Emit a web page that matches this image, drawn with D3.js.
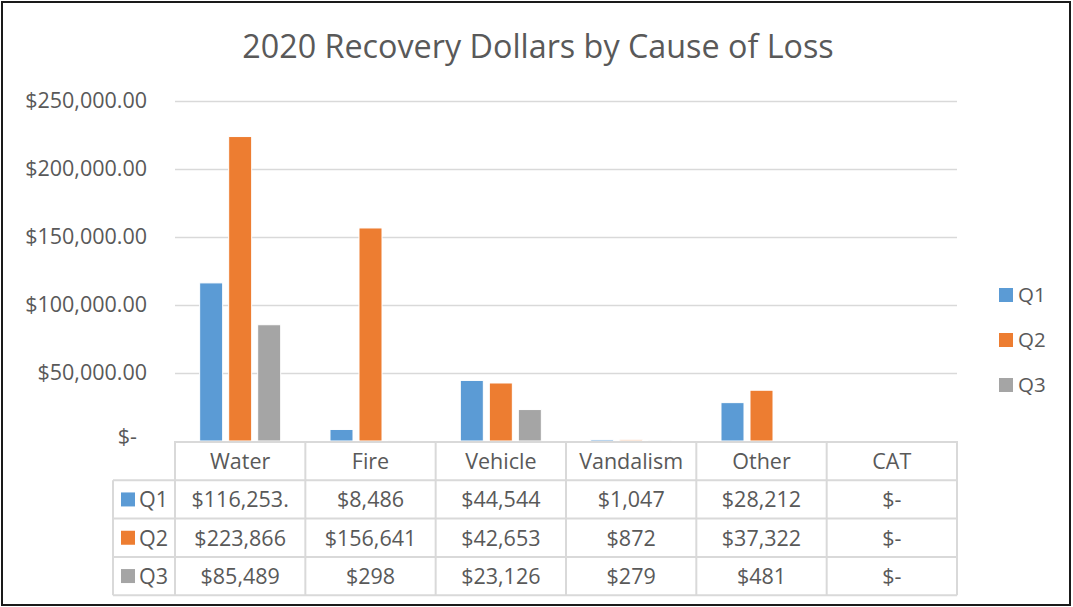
<!DOCTYPE html>
<html>
<head>
<meta charset="utf-8">
<script src="https://cdn.jsdelivr.net/npm/d3@7"></script>
<style>
  body { margin: 0; background: #fff; }
  text { font-family: "Open Sans", sans-serif; fill: #595959; }
</style>
</head>
<body>
<div id="chart"></div>
<script>
// data
const categories = ["Water", "Fire", "Vehicle", "Vandalism", "Other", "CAT"]
const series = ["Q1", "Q2", "Q3"]
const q1 = [116253.25, 8486, 44544, 1047, 28212, 0]
const q2 = [223866, 156641, 42653, 872, 37322, 0]
const q3 = [85489, 298, 23126, 279, 481, 0]
const yTicks = [0, 50000, 100000, 150000, 200000, 250000]
const colors = ["#5B9BD5", "#ED7D31", "#A5A5A5"]

const values = [q1, q2, q3]
const data = series.map((s, i) => ({ s, vals: categories.map((c, j) => ({ c, v: values[i][j] })) }))

// dimensions
const width = 1073, height = 607
const plot = {left: 175, right: 957, top: 101, bottom: 441}
const rowH = 38.3

const svg = d3.select("#chart").append("svg")
    .attr("width", width)
    .attr("height", height)

// outer frame
svg.append("rect")
    .attr("x", 2).attr("y", 2)
    .attr("width", width - 5).attr("height", height - 4)
    .attr("fill", "#fff")
    .attr("stroke", "#1a1a1a")
    .attr("stroke-width", 2)

// title
svg.append("text")
    .attr("x", 538).attr("y", 58)
    .attr("text-anchor", "middle")
    .style("font-size", "32.3px")
    .text("2020 Recovery Dollars by Cause of Loss")

// scales
const x0 = d3.scaleBand().domain(categories).range([plot.left, plot.right])
const x1 = d3.scaleBand().domain(series).range([0, x0.bandwidth()])
    .paddingInner(0.207).paddingOuter(0.85)
const y = d3.scaleLinear().domain([0, 250000]).range([plot.bottom, plot.top])

// gridlines + y labels
const yAxis = d3.axisLeft(y)
    .tickValues(yTicks)
    .tickSize(-(plot.right - plot.left))
    .tickPadding(28)
    .tickFormat(d => d === 0 ? "$-" : d3.format("$,.2f")(d))

svg.append("g")
    .attr("transform", `translate(${plot.left},0)`)
    .call(yAxis)
    .call(g => g.select(".domain").remove())
    .call(g => g.selectAll(".tick line")
        .attr("stroke", "#d9d9d9")
        .attr("stroke-width", 1.5))
    .call(g => g.selectAll(".tick text")
        .attr("fill", "#595959")
        .style("font-size", "21.5px")
        .style("font-family", "'Open Sans', sans-serif"))
    .call(g => g.selectAll(".tick").filter(d => d === 0).select("text")
        .attr("x", -38).attr("dy", "0.1em"))
    .call(g => g.selectAll(".tick").filter(d => d === 0).select("line").remove())

// bars
svg.append("g")
    .selectAll("g")
    .data(data)
    .join("g")
    .attr("fill", (d, i) => colors[i])
    .selectAll("rect")
    .data(d => d.vals.map(v => ({ ...v, s: d.s })))
    .join("rect")
    .attr("x", d => x0(d.c) + x1(d.s))
    .attr("y", d => y(d.v))
    .attr("width", x1.bandwidth())
    .attr("height", d => y(0) - y(d.v))
    .attr("stroke", "#fff")
    .attr("stroke-width", 1)

// data table
const fmt = v => {
    if (v === 0) return "$-"
    if (Number.isInteger(v)) return d3.format("$,.0f")(v)
    return d3.format("$,.2f")(v).slice(0, 9)
}
const table = svg.append("g").attr("class", "dataTable")
const keyLeft = 113
const gridColor = "#d9d9d9"
const cellFont = "21.5px"

// horizontal lines
const rowLines = d3.range(5).map(i => plot.bottom + 1 + i * rowH)
table.selectAll("line.h")
    .data(rowLines)
    .join("line")
    .attr("class", "h")
    .attr("x1", (d, i) => i === 0 ? plot.left : keyLeft)
    .attr("x2", plot.right)
    .attr("y1", d => d).attr("y2", d => d)
    .attr("stroke", gridColor)
    .attr("stroke-width", 2)

// vertical lines
const colLines = categories.map(c => x0(c)).concat([plot.right])
table.selectAll("line.v")
    .data(colLines)
    .join("line")
    .attr("class", "v")
    .attr("x1", d => d).attr("x2", d => d)
    .attr("y1", plot.bottom).attr("y2", rowLines[4])
    .attr("stroke", gridColor)
    .attr("stroke-width", 2)

table.append("line")
    .attr("x1", keyLeft).attr("x2", keyLeft)
    .attr("y1", rowLines[1]).attr("y2", rowLines[4])
    .attr("stroke", gridColor)
    .attr("stroke-width", 2)

// header
table.selectAll("text.cat")
    .data(categories)
    .join("text")
    .attr("class", "cat")
    .attr("x", d => x0(d) + x0.bandwidth() / 2)
    .attr("y", (rowLines[0] + rowLines[1]) / 2)
    .attr("dy", "0.36em")
    .attr("text-anchor", "middle")
    .style("font-size", cellFont)
    .text(d => d)

// rows
const rows = table.selectAll("g.row")
    .data(data)
    .join("g")
    .attr("class", "row")
    .attr("transform", (d, i) => `translate(0, ${(rowLines[i + 1] + rowLines[i + 2]) / 2})`)

rows.append("rect")
    .attr("x", 121).attr("y", -7)
    .attr("width", 14).attr("height", 14)
    .attr("fill", (d, i) => colors[i])

rows.append("text")
    .attr("x", 139).attr("dy", "0.36em")
    .style("font-size", cellFont)
    .text(d => d.s)

rows.selectAll("text.val")
    .data(d => d.vals)
    .join("text")
    .attr("class", "val")
    .attr("x", d => x0(d.c) + x0.bandwidth() / 2)
    .attr("dy", "0.36em")
    .attr("text-anchor", "middle")
    .style("font-size", cellFont)
    .text(d => fmt(d.v))

// legend
const legend = svg.append("g")
    .selectAll("g")
    .data(series)
    .join("g")
    .attr("transform", (d, i) => `translate(999, ${295 + i * 45})`)

legend.append("rect")
    .attr("y", -7)
    .attr("width", 14).attr("height", 14)
    .attr("fill", (d, i) => colors[i])

legend.append("text")
    .attr("x", 19).attr("dy", "0.36em")
    .style("font-size", "20.5px")
    .text(d => d)
</script>
</body>
</html>
